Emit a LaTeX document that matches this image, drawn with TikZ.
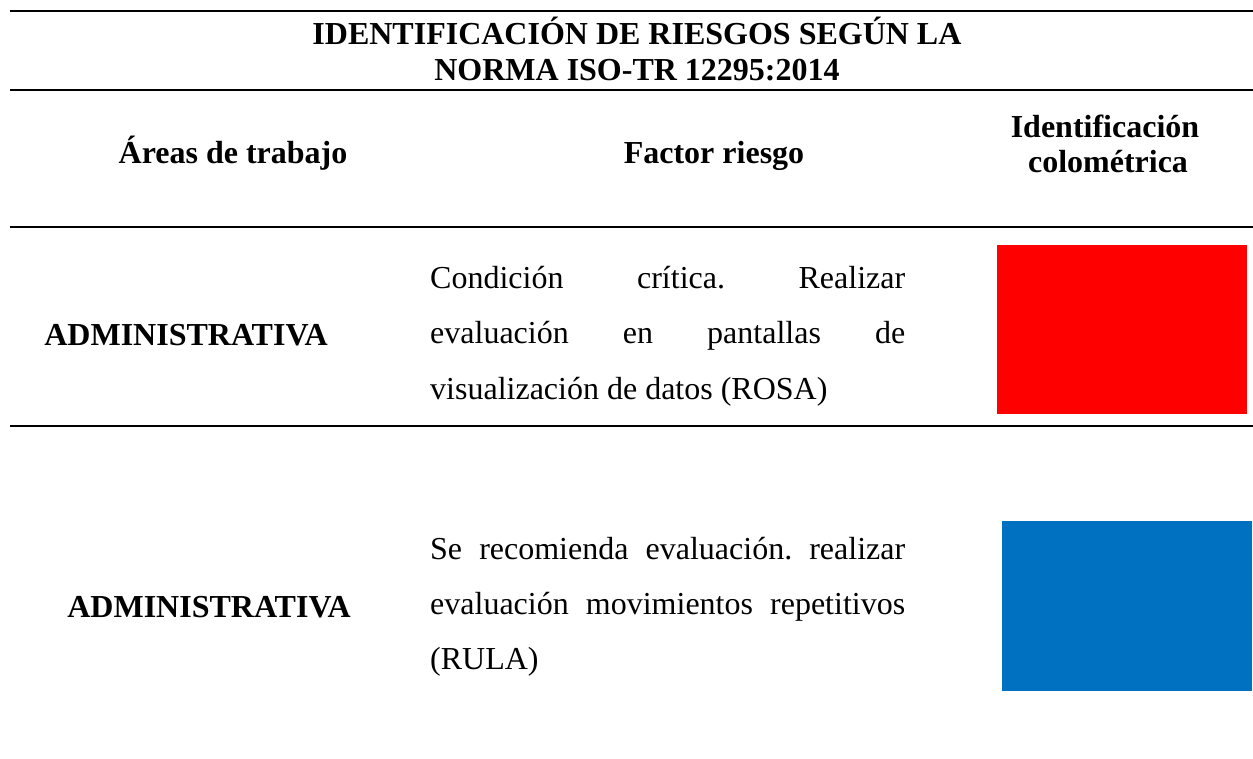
\documentclass[tikz,border=0pt]{standalone}
\usepackage{fontspec}
\setmainfont{Liberation Serif}
\frenchspacing
\definecolor{riskred}{HTML}{FF0000}
\definecolor{riskblue}{HTML}{0070C0}
\begin{document}
\begin{tikzpicture}[x=1pt,y=-1pt,
  rule/.style={line width=2.6pt,black},
  txt/.style={anchor=base,inner sep=0pt,font=\fontsize{32}{38}\selectfont\frenchspacing},
  btxt/.style={txt,font=\fontsize{32}{38}\selectfont\bfseries\frenchspacing},
  body/.style={txt,anchor=base west}]
\useasboundingbox[fill=white] (0,0) rectangle (1253,759);
% rules
\coordinate (r1a) at (10,11);  \coordinate (r1b) at (1253,11);
\coordinate (r2a) at (10,90);  \coordinate (r2b) at (1253,90);
\coordinate (r3a) at (10,227); \coordinate (r3b) at (1253,227);
\coordinate (r4a) at (10,426); \coordinate (r4b) at (1253,426);
\draw[rule] (r1a) -- (r1b);
\draw[rule] (r2a) -- (r2b);
\draw[rule] (r3a) -- (r3b);
\draw[rule] (r4a) -- (r4b);
% title
\node[btxt] (t1) at (637,45) {IDENTIFICACIÓN DE RIESGOS SEGÚN LA};
\node[btxt] (t2) at (637,81) {NORMA ISO-TR 12295:2014};
% header
\node[btxt] (h1) at (233,164) {Áreas de trabajo};
\node[btxt] (h2) at (714,164) {Factor riesgo};
\node[btxt] (h3a) at (1105,138) {Identificación};
\node[btxt] (h3b) at (1108,173) {colométrica};
% row 1
\node[btxt] (a1) at (186,345) {ADMINISTRATIVA};
\node[body] (f1a) at (430,289) {\makebox[475pt][s]{Condición crítica. Realizar}};
\node[body] (f1b) at (430,344) {\makebox[475pt][s]{evaluación en pantallas de}};
\node[body] (f1c) at (430,399) {visualización de datos (ROSA)};
\fill[riskred] (997,245) rectangle (1247,414);
% row 2
\node[btxt] (a2) at (209,617) {ADMINISTRATIVA};
\node[body] (f2a) at (430,559) {\makebox[475pt][s]{Se recomienda evaluación. realizar}};
\node[body] (f2b) at (430,614) {\makebox[475pt][s]{evaluación movimientos repetitivos}};
\node[body] (f2c) at (430,669) {(RULA)};
\fill[riskblue] (1002,521) rectangle (1252,691);
\end{tikzpicture}
\end{document}
